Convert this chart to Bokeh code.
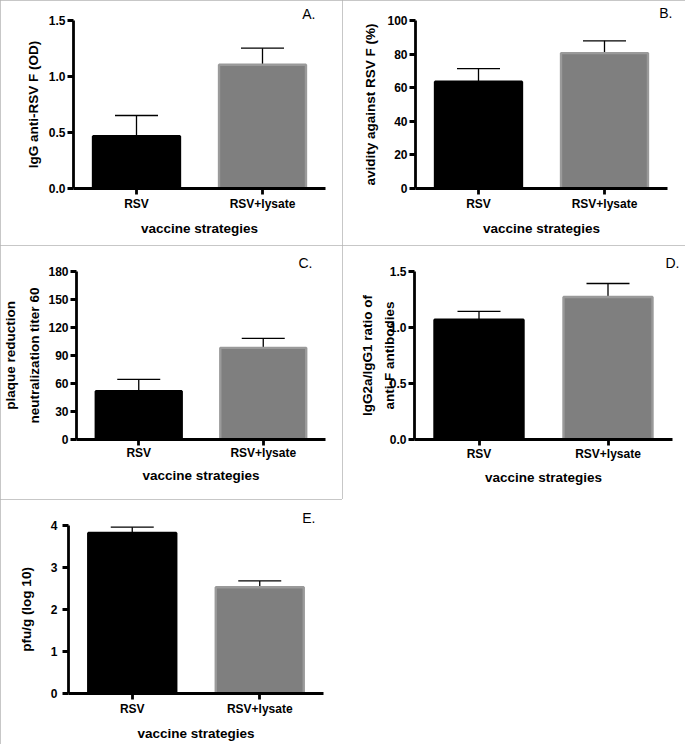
from bokeh.plotting import figure
from bokeh.models import (FactorRange, Range1d, FixedTicker, NumeralTickFormatter,
                          Whisker, TeeHead, ColumnDataSource, InlineStyleSheet)
from bokeh.layouts import column, row
from bokeh.embed import file_html
from bokeh.resources import INLINE

# ---------------- data ----------------
groups = ["RSV", "RSV+lysate"]

igg_od = [0.467, 1.105]
igg_od_sem = [0.185, 0.148]

avidity_pct = [63.6, 80.6]
avidity_sem = [7.7, 7.3]

prnt60 = [51.8, 98.2]
prnt60_sem = [12.7, 10.2]

g2a_g1_ratio = [1.07, 1.272]
g2a_g1_sem = [0.074, 0.121]

pfu_log10 = [3.82, 2.53]
pfu_sem = [0.14, 0.15]

yticks_a = [0, 0.5, 1.0, 1.5]
yticks_b = [0, 20, 40, 60, 80, 100]
yticks_c = [0, 30, 60, 90, 120, 150, 180]
yticks_d = [0, 0.5, 1.0, 1.5]
yticks_e = [0, 1, 2, 3, 4]

xtitle = "vaccine strategies"

# ---------------- styling ----------------
FONT = "Liberation Sans"
bar_fill = ["#000000", "#7f7f7f"]
bar_line = ["#000000", "#9a9a9a"]
border_css = InlineStyleSheet(css=":host { outline: 1px solid #b4b4b4; outline-offset: -1px; }")


def panel(W, H, frame, vals, sems, yticks, fmt, ylabel, letter, letter_r,
          ylab_standoff=10, ylab_lh=1.2, ytick_standoff=2, title_standoff=0,
          xtick_standoff=2, xlab_standoff=7):
    fl, fr, ft, fb = frame
    ymax = yticks[-1]
    p = figure(width=W, height=H, x_range=FactorRange(factors=groups, range_padding=0),
               y_range=Range1d(0, ymax), toolbar_location=None, output_backend="svg",
               min_border_left=fl, min_border_right=W - fr,
               min_border_top=ft, min_border_bottom=H - fb,
               background_fill_color="white", border_fill_color="white")
    p.outline_line_color = None
    p.xgrid.visible = False
    p.ygrid.visible = False
    p.stylesheets = [border_css]

    # panel letter as a right-aligned title
    p.title.text = letter
    p.title.align = "right"
    p.title.offset = fr - letter_r
    p.title.standoff = title_standoff
    p.title.text_font = FONT
    p.title.text_font_style = "normal"
    p.title.text_font_size = "14px"
    p.title.text_color = "black"

    src = ColumnDataSource(dict(x=groups, top=vals,
                                upper=[v + e for v, e in zip(vals, sems)],
                                fill=bar_fill, line=bar_line))
    p.vbar(x="x", top="top", bottom=0, width=0.69, source=src,
           fill_color="fill", line_color="line", line_width=2.4)
    w = Whisker(base="x", lower="top", upper="upper", source=src, dimension="height",
                line_color="black", line_width=1.3,
                upper_head=TeeHead(size=43, line_color="black", line_width=1.3),
                lower_head=None)
    p.add_layout(w)

    for ax in (p.xaxis[0], p.yaxis[0]):
        ax.axis_line_color = "black"
        ax.axis_line_width = 2.8
        ax.major_tick_line_color = "black"
        ax.major_tick_line_width = 2.8
        ax.major_tick_out = 6
        ax.major_tick_in = 0
        ax.minor_tick_line_color = None
        ax.major_label_text_font = FONT
        ax.major_label_text_font_style = "bold"
        ax.major_label_text_font_size = "12px"
        ax.major_label_text_color = "black"
        ax.axis_label_text_font = FONT
        ax.axis_label_text_font_style = "bold"
        ax.axis_label_text_font_size = "13.5px"
        ax.axis_label_text_color = "black"

    xa = p.xaxis[0]
    xa.axis_label = xtitle
    xa.major_label_standoff = xtick_standoff
    xa.axis_label_standoff = xlab_standoff

    ya = p.yaxis[0]
    ya.ticker = FixedTicker(ticks=yticks)
    ya.formatter = NumeralTickFormatter(format=fmt)
    ya.axis_label = ylabel
    ya.major_label_standoff = ytick_standoff
    ya.axis_label_standoff = ylab_standoff
    ya.axis_label_text_line_height = ylab_lh
    return p


pa = panel(342, 245, (73, 325, 20, 188), igg_od, igg_od_sem, yticks_a, "0.0",
           "IgG anti-RSV F (OD)", "A.", 315, ylab_standoff=5, title_standoff=-2)
pb = panel(343, 245, (73, 325, 20, 188), avidity_pct, avidity_sem, yticks_b, "0",
           "avidity against RSV F (%)", "B.", 330, ylab_standoff=6, title_standoff=-1)
pc = panel(342, 254, (73, 325, 26, 194), prnt60, prnt60_sem, yticks_c, "0",
           "plaque reduction\nneutralization titer 60", "C.", 312,
           ylab_standoff=3, ylab_lh=1.6, title_standoff=1,
           xtick_standoff=0, xlab_standoff=5)
pd = panel(343, 254, (72, 330, 26, 194), g2a_g1_ratio, g2a_g1_sem, yticks_d, "0.0",
           "IgG2a/IgG1 ratio of\nanti-F antibodies", "D.", 337,
           ylab_standoff=-10, ylab_lh=1.45, title_standoff=1,
           xtick_standoff=1, xlab_standoff=6)
pe = panel(342, 245, (68, 323, 26, 194), pfu_log10, pfu_sem, yticks_e, "0",
           "pfu/g (log 10)", "E.", 315, ylab_standoff=14, ytick_standoff=5,
           title_standoff=-1)

layout = column(row(pa, pb), row(pc, pd), row(pe))
open("out.html", "w").write(file_html(layout, INLINE))
